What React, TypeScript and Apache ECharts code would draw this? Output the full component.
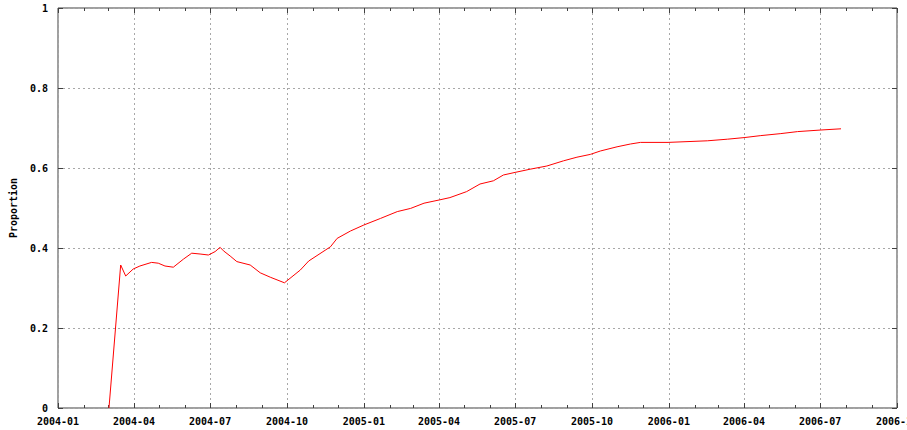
import React, { useEffect, useRef } from 'react';
import * as echarts from 'echarts';

const dates = [
  '2004-03-02', '2004-03-16', '2004-03-22', '2004-03-31', '2004-04-08', '2004-04-22', '2004-04-30',
  '2004-05-08', '2004-05-18', '2004-05-30', '2004-06-09', '2004-06-19', '2004-06-29', '2004-07-07',
  '2004-07-13', '2004-07-17', '2004-07-25', '2004-08-02', '2004-08-18', '2004-08-30', '2004-09-11',
  '2004-09-28', '2004-10-17', '2004-10-27', '2004-11-22', '2004-11-30', '2004-12-16', '2005-01-01',
  '2005-01-21', '2005-02-10', '2005-02-26', '2005-03-14', '2005-04-01', '2005-04-14', '2005-05-04',
  '2005-05-20', '2005-06-05', '2005-06-17', '2005-07-01', '2005-07-19', '2005-08-08', '2005-08-28',
  '2005-09-13', '2005-09-29', '2005-10-11', '2005-10-31', '2005-11-16', '2005-11-28', '2005-12-31',
  '2006-02-16', '2006-03-12', '2006-04-01', '2006-04-21', '2006-05-15', '2006-06-04', '2006-07-02',
  '2006-07-26',
];

const proportion = [
  0, 0.3575, 0.33, 0.3475, 0.355, 0.364, 0.362,
  0.355, 0.352, 0.372, 0.387, 0.385, 0.3825, 0.391,
  0.4017, 0.393, 0.38, 0.366, 0.3575, 0.338, 0.327,
  0.313, 0.345, 0.3675, 0.403, 0.424, 0.4425, 0.4575,
  0.474, 0.491, 0.499, 0.512, 0.52, 0.526, 0.541,
  0.56, 0.568, 0.5825, 0.589, 0.597, 0.605, 0.618,
  0.627, 0.634, 0.6425, 0.653, 0.66, 0.664, 0.664,
  0.668, 0.672, 0.676, 0.681, 0.686, 0.691, 0.695,
  0.698,
];

const xTickLabels = [
  '2004-01', '2004-04', '2004-07', '2004-10', '2005-01', '2005-04',
  '2005-07', '2005-10', '2006-01', '2006-04', '2006-07', '2006-10',
];

const yTicks = [0, 0.2, 0.4, 0.6, 0.8, 1];

const ts = (s: string) => {
  const p = s.split('-').map(Number);
  return Date.UTC(p[0], p[1] - 1, p[2] || 1);
};

const fmt = (v: number) => {
  const d = new Date(v);
  const m = d.getUTCMonth() + 1;
  return d.getUTCFullYear() + '-' + (m < 10 ? '0' + m : '' + m);
};

const FONT = 'DejaVu Sans Mono';

export default function App() {
  const ref = useRef<HTMLDivElement>(null);

  useEffect(() => {
    if (!ref.current) return;
    const chart = echarts.init(ref.current, undefined, { renderer: 'svg' });

    const xMin = ts(xTickLabels[0]);
    const xMax = ts(xTickLabels[xTickLabels.length - 1]);
    const major = xTickLabels.map(ts);
    const minor: number[] = [];
    {
      let y = 2004;
      let m = 0;
      while (Date.UTC(y, m, 1) <= xMax) {
        minor.push(Date.UTC(y, m, 1));
        m++;
        if (m > 11) { m = 0; y++; }
      }
    }

    const tickColor = '#404040';
    const labelStyle = {
      fontFamily: FONT,
      fontWeight: 'bold' as const,
      fontSize: 10,
      color: '#000',
    };

    const xBase = (position: 'top' | 'bottom', values: number[], len: number, labels: boolean, split: boolean) => ({
      type: 'value' as const,
      position,
      min: xMin,
      max: xMax,
      axisLine: { show: false },
      axisTick: {
        show: true,
        inside: true,
        length: len,
        customValues: values,
        lineStyle: { color: tickColor, width: 1 },
      },
      axisLabel: {
        show: labels,
        customValues: values,
        formatter: (v: number) => fmt(v),
        margin: 8,
        ...labelStyle,
      },
      splitLine: {
        show: split,
        lineStyle: { color: '#a8a8a8', width: 1, type: [2, 3] },
      },
    });

    chart.setOption({
      animation: false,
      backgroundColor: '#ffffff',
      grid: {
        left: 58,
        right: 10,
        top: 8,
        bottom: 22,
        containLabel: false,
        outerBoundsMode: 'none',
        show: true,
        borderColor: '#404040',
        borderWidth: 1,
        backgroundColor: 'transparent',
      },
      xAxis: [
        xBase('bottom', major, 5, true, true),
        xBase('bottom', minor, 3, false, false),
        xBase('top', major, 5, false, false),
        xBase('top', minor, 3, false, false),
      ],
      yAxis: [
        {
          type: 'value',
          position: 'left',
          min: yTicks[0],
          max: yTicks[yTicks.length - 1],
          interval: 0.2,
          name: 'Proportion',
          nameLocation: 'middle',
          nameGap: 40,
          nameTextStyle: { ...labelStyle },
          axisLine: { show: false },
          axisTick: { show: true, inside: true, length: 5, lineStyle: { color: tickColor } },
          axisLabel: { margin: 10, ...labelStyle },
          splitLine: { show: true, lineStyle: { color: '#a8a8a8', width: 1, type: [2, 3] } },
        },
        {
          type: 'value',
          position: 'right',
          min: yTicks[0],
          max: yTicks[yTicks.length - 1],
          interval: 0.2,
          axisLine: { show: false },
          axisTick: { show: true, inside: true, length: 5, lineStyle: { color: tickColor } },
          axisLabel: { show: false },
          splitLine: { show: false },
        },
      ],
      series: [
        {
          type: 'line',
          xAxisIndex: 0,
          yAxisIndex: 0,
          showSymbol: false,
          symbol: 'none',
          lineStyle: { color: '#ff0000', width: 1 },
          itemStyle: { color: '#ff0000' },
          data: dates.map((d, i) => [ts(d), proportion[i]]),
        },
      ],
    });

    return () => chart.dispose();
  }, []);

  return (
    <div
      ref={ref}
      style={{ position: 'fixed', left: 0, top: 0, width: 907, height: 430 }}
    />
  );
}
